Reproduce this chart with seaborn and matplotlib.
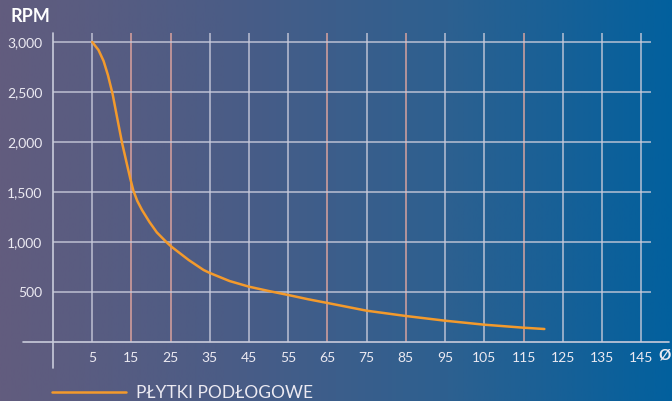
import numpy as np
import matplotlib
matplotlib.use("Agg")
import matplotlib.pyplot as plt
import seaborn as sns
from matplotlib.colors import LinearSegmentedColormap

# curve
diameter = [5, 6.6, 7.9, 9.0, 10.2, 11.3, 12.6, 13.9, 14.7, 15.5, 16.5, 17.7, 19.6,
            21.5, 23.9, 25.2, 29.6, 33.4, 35, 40, 45, 50, 55, 60, 65, 75, 85, 95,
            105, 115, 120.3]
rpm = [3000, 2920, 2810, 2670, 2480, 2255, 1993, 1770, 1635, 1513, 1410, 1320, 1200,
       1095, 1000, 953, 820, 720, 690, 610, 553, 510, 470, 428, 390, 313, 260, 213,
       173, 143, 130]
series_name = "PŁYTKI PODŁOGOWE"

x_ticks = [5, 15, 25, 35, 45, 55, 65, 75, 85, 95, 105, 115, 125, 135, 145]
x_accent = [15, 25, 65, 85, 115]
y_ticks = [500, 1000, 1500, 2000, 2500, 3000]

sns.set_theme(style="white")
plt.rcParams["font.family"] = ["Lato", "DejaVu Sans"]

txt = "#eceaf2"
grid_white = "#c9cbdb"
grid_pink = "#e9aaa0"
orange = "#f39a2c"

fig = plt.figure(figsize=(6.72, 4.01), dpi=100)

# background gradient
bg = fig.add_axes([0, 0, 1, 1], zorder=-10)
cmap = LinearSegmentedColormap.from_list("bg", ["#625c7e", "#4b5c86", "#2d6090", "#02609e"])
bg.imshow(np.linspace(0, 1, 256)[None, :], aspect="auto", cmap=cmap, extent=[0, 1, 0, 1])
bg.set_axis_off()

W, H = 672, 401
ax = fig.add_axes([53 / W, (H - 342) / H, 598 / W, 309 / H])
ax.patch.set_alpha(0)
for s in ax.spines.values():
    s.set_visible(False)

ax.set_xlim(-5, 147.5)
ax.set_ylim(0, 3090)

# grid
for xv in x_ticks:
    c = grid_pink if xv in x_accent else grid_white
    ax.axvline(xv, ymin=0, ymax=1, color=c, lw=1.1, alpha=0.9, zorder=1)
for yv in y_ticks:
    ax.axhline(yv, color=grid_white, lw=1.1, alpha=0.9, zorder=1)

# axis lines
ax.axhline(0, xmin=-30 / 598, xmax=616 / 598, color=grid_white, lw=1.2, clip_on=False, zorder=2)
ax.axvline(-5, ymin=-26 / 309, ymax=1, color=grid_white, lw=1.2, clip_on=False, zorder=2)

sns.lineplot(x=diameter, y=rpm, ax=ax, color=orange, lw=1.8, label=series_name, zorder=3)

ax.set_xticks(x_ticks)
ax.set_xticklabels([str(v) for v in x_ticks])
ax.set_yticks(y_ticks)
ax.set_yticklabels([f"{v:,}" for v in y_ticks])
ax.tick_params(axis="both", length=0, colors=txt, labelsize=10)
ax.tick_params(axis="x", pad=7.5)
ax.tick_params(axis="y", pad=7.5)
ax.grid(False)

ax.text(150.9, -130, "Ø", color=txt, fontsize=11, fontweight="bold",
        ha="center", va="center", clip_on=False)
fig.text(10 / W, 1 - 17 / H, "RPM", color="white", fontsize=13, fontweight="bold",
         ha="left", va="center")

ax.get_legend().remove()
leg = fig.legend(loc="center left", bbox_to_anchor=(52 / W, 1 - 393 / H), frameon=False,
                 borderpad=0, borderaxespad=0, handlelength=4.25, handletextpad=0.6,
                 prop={"size": 12.5}, labelcolor=txt)

fig.savefig("out.png", dpi=100)
